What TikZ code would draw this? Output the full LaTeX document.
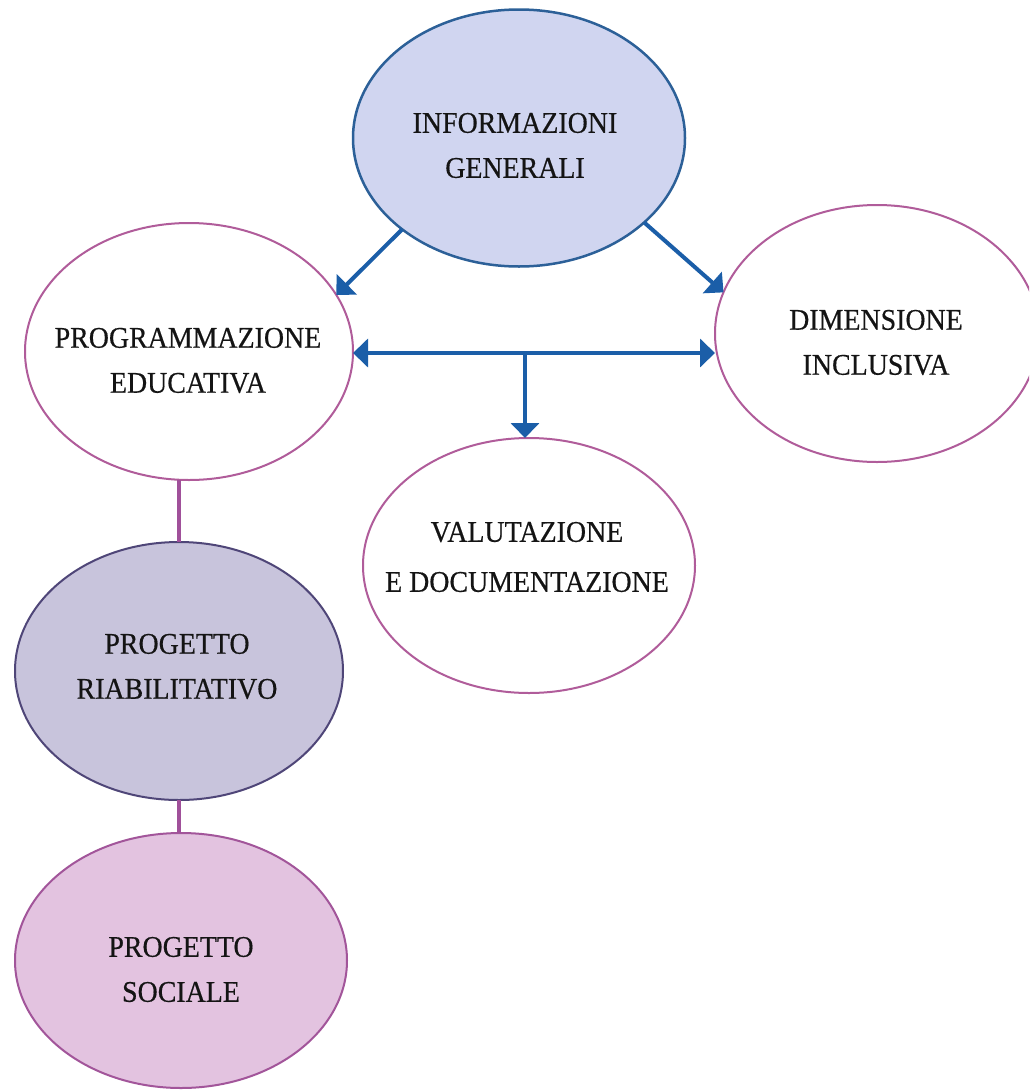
\documentclass[tikz,border=0pt]{standalone}
\usepackage{fontspec}
\setmainfont{Liberation Serif}
\newfontfamily\lblfont[FakeBold=0.5]{Liberation Serif}
\usetikzlibrary{arrows.meta,shapes.geometric}
\definecolor{infofill}{RGB}{208,213,240}
\definecolor{infoborder}{RGB}{44,96,152}
\definecolor{arrowblue}{RGB}{27,94,168}
\definecolor{pinkborder}{RGB}{176,92,154}
\definecolor{riabfill}{RGB}{200,196,220}
\definecolor{riabborder}{RGB}{79,70,120}
\definecolor{socfill}{RGB}{227,195,224}
\definecolor{socborder}{RGB}{162,85,154}
\definecolor{linkpurple}{RGB}{160,80,154}
\definecolor{textc}{RGB}{20,20,20}
\newcommand{\nar}[1]{\scalebox{0.93}[1]{#1}}
\begin{document}
\begin{tikzpicture}[x=1pt,y=-1pt,
  ell/.style={ellipse, draw=pinkborder, line width=2pt, fill=white,
    minimum width=330pt, minimum height=257pt, inner sep=0pt, outer sep=0pt},
  lbl/.style={align=center, text=textc, inner sep=0pt,
    font=\lblfont\fontsize{30}{45}\selectfont},
  blue arrow/.style={draw=arrowblue, line width=4pt,
    -{Triangle[length=15pt,width=28pt]}},
  link/.style={draw=linkpurple, line width=4pt}]
\useasboundingbox (0,0) rectangle (1029,1090);
\clip (0,0) rectangle (1029,1090);
\fill[white] (0,0) rectangle (1029,1090);
% ellipses
\node[ell, draw=infoborder, fill=infofill, line width=2.5pt, minimum width=332pt] (e1) at (519,138) {};
\node[ell, minimum width=328pt] (e2) at (189,351.5) {};
\node[ell, minimum width=324pt] (e4) at (877,333.5) {};
\node[ell, minimum width=332pt, minimum height=255pt] (e3) at (529,565.5) {};
\node[ell, draw=riabborder, fill=riabfill, minimum width=328pt, minimum height=258pt] (e5) at (179,671) {};
\node[ell, draw=socborder, fill=socfill, minimum width=332pt, minimum height=255pt] (e6) at (181,960.5) {};
% texts
\node[lbl] (t1) at (515,145.5) {\nar{INFORMAZIONI}\\\nar{GENERALI}};
\node[lbl] (t2) at (188,360.5) {\nar{PROGRAMMAZIONE}\\\nar{EDUCATIVA}};
\node[lbl] (t4) at (876,342.5) {\nar{DIMENSIONE}\\\nar{INCLUSIVA}};
\node[lbl, font=\lblfont\fontsize{30}{50}\selectfont] (t3) at (527,557) {\nar{VALUTAZIONE}\\\nar{E DOCUMENTAZIONE}};
\node[lbl] (t5) at (177,666.5) {\nar{PROGETTO}\\\nar{RIABILITATIVO}};
\node[lbl] (t6) at (181,969.5) {\nar{PROGETTO}\\\nar{SOCIALE}};
% connectors
\coordinate (hub) at (525,353);
\draw[blue arrow] (e1.218) -- (e2.21.5);
\draw[blue arrow] (e1.326) -- (e4.165);
\draw[draw=arrowblue, line width=4pt,
  {Triangle[length=15pt,width=28pt]}-{Triangle[length=15pt,width=28pt]}]
  (e2.east |- hub) -- (e4.west |- hub);
\draw[blue arrow] (hub) -- (hub |- e3.north);
\draw[link] (e5.north |- e2.south) -- (e5.north);
\draw[link] (e5.south) -- (e5.south |- e6.north);
\end{tikzpicture}
\end{document}
